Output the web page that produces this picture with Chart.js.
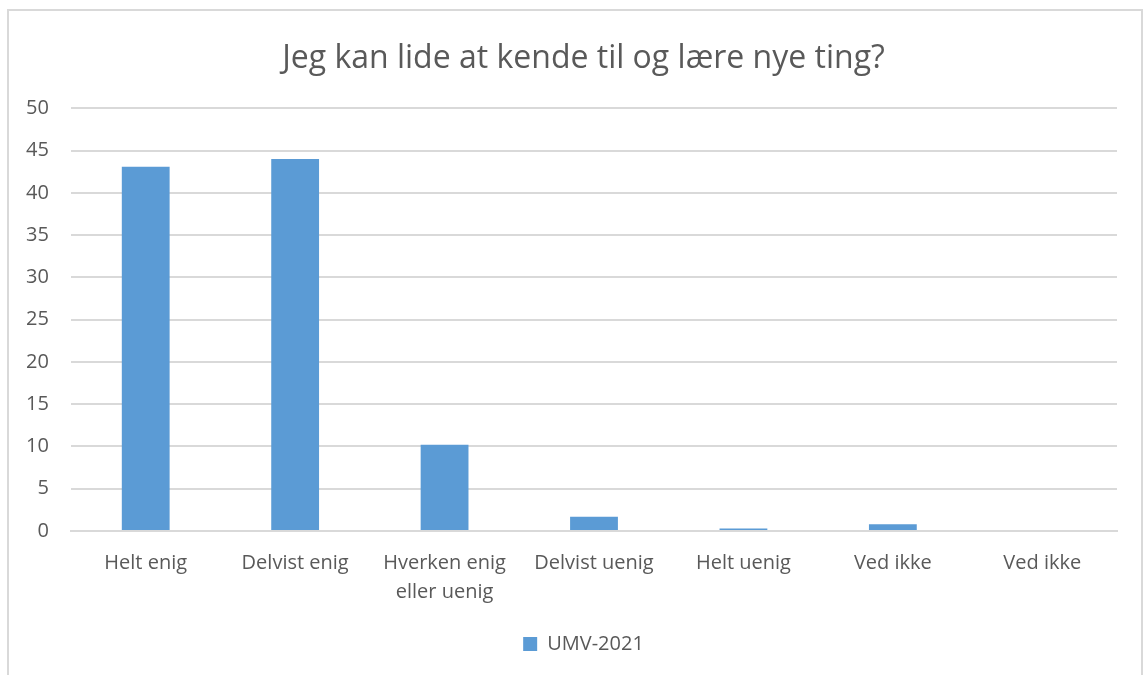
<!DOCTYPE html>
<html lang="da">
<head>
    <meta charset="UTF-8">
    <title>Jeg kan lide at kende til og lære nye ting?</title>
    <script src="https://cdn.jsdelivr.net/npm/chart.js"></script>
    <style>
        body { margin: 0; background: white; }
        .frame { position: absolute; left: 7px; top: 9px; width: 1136px; height: 680px; border: 2px solid #d9d9d9; box-sizing: border-box; }
        .wrap { position: absolute; left: 0; top: 0; width: 1145px; height: 675px; }
    </style>
</head>
<body>
    <div class="frame"></div>
    <div class="wrap"><canvas id="chart"></canvas></div>
    <script>
        const categories = ['Helt enig', 'Delvist enig', ['Hverken enig', 'eller uenig'], 'Delvist uenig', 'Helt uenig', 'Ved ikke', 'Ved ikke'];
        const seriesName = 'UMV-2021';
        const values = [43.1, 44.0, 10.2, 1.7, 0.3, 0.8, 0];
        const yTicks = [0, 5, 10, 15, 20, 25, 30, 35, 40, 45, 50];

        const textColor = '#595959';
        const barColor = '#5b9bd5';
        const font = 'Open Sans';

        new Chart(document.getElementById('chart'), {
            type: 'bar',
            data: {
                labels: categories,
                datasets: [{
                    label: seriesName,
                    data: values,
                    backgroundColor: barColor,
                    categoryPercentage: 1,
                    barPercentage: 0.32
                }]
            },
            options: {
                responsive: true,
                maintainAspectRatio: false,
                animation: false,
                layout: { padding: { left: 50, right: 28, top: 40, bottom: 11 } },
                plugins: {
                    title: {
                        display: true,
                        text: 'Jeg kan lide at kende til og lære nye ting?',
                        color: textColor,
                        font: { family: font, size: 32, weight: 'normal' },
                        padding: { top: 0, bottom: 30 }
                    },
                    legend: {
                        position: 'bottom',
                        labels: {
                            color: textColor,
                            font: { family: font, size: 20 },
                            boxWidth: 14,
                            boxHeight: 14,
                            padding: 15
                        }
                    },
                    tooltip: { enabled: false }
                },
                scales: {
                    x: {
                        grid: { display: false },
                        border: { color: '#d9d9d9', width: 2 },
                        afterFit: axis => { axis.height += 2; },
                        ticks: {
                            color: textColor,
                            font: { family: font, size: 20, lineHeight: 1.45 },
                            maxRotation: 0,
                            autoSkip: false,
                            padding: 10
                        }
                    },
                    y: {
                        min: 0,
                        max: 50,
                        afterBuildTicks: axis => { axis.ticks = yTicks.map(v => ({ value: v })); },
                        // labels sit left of the axis box so the title centres like the original
                        afterFit: axis => { axis.width = 21; },
                        grid: { color: '#d9d9d9', lineWidth: 2, drawTicks: false },
                        border: { display: false },
                        ticks: {
                            color: textColor,
                            font: { family: font, size: 20 },
                            mirror: true,
                            crossAlign: 'far',
                            padding: -45
                        }
                    }
                }
            }
        });
    </script>
</body>
</html>
